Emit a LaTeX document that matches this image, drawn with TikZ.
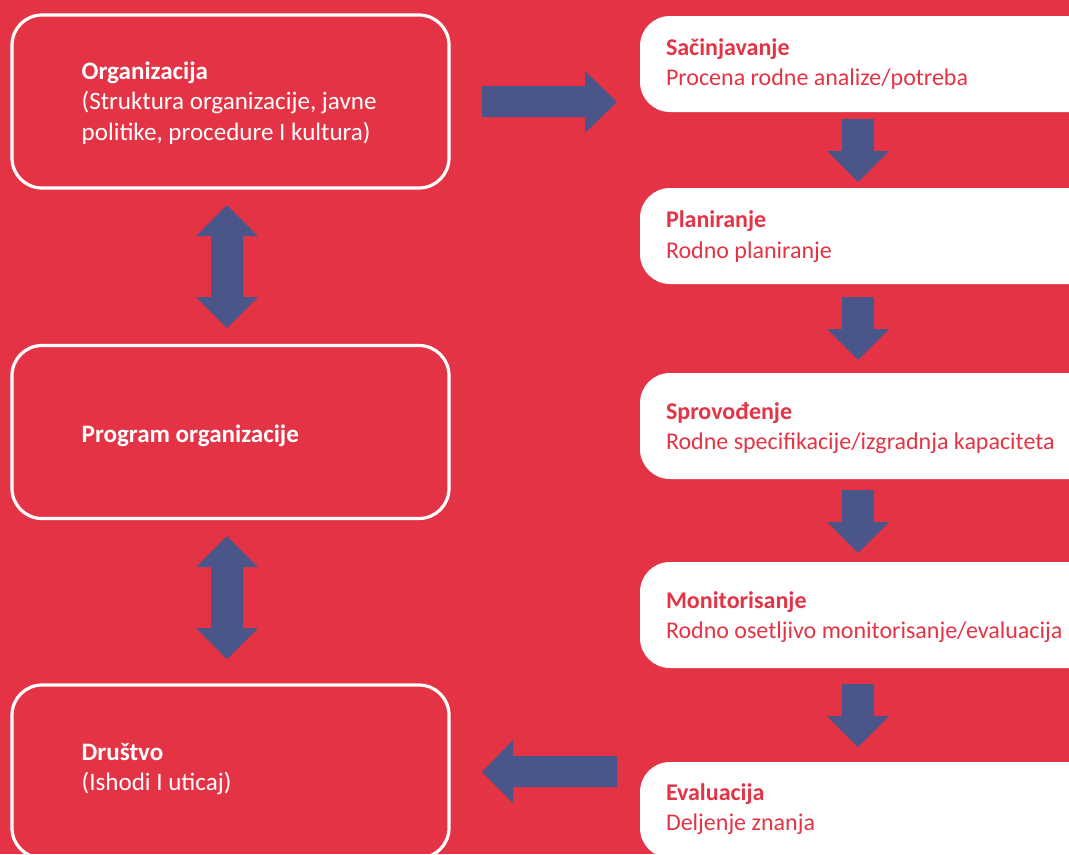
\documentclass[tikz,border=0pt]{standalone}
\usepackage{fontspec}
\setmainfont{Carlito}
\definecolor{bgred}{RGB}{228,51,69}
\definecolor{arrblue}{RGB}{74,86,137}
\newcommand\darr[3]{\fill[arr] (#1-16,#2) -- (#1+16,#2) -- (#1+16,#3-31) -- (#1+31,#3-31) -- (#1,#3) -- (#1-31,#3-31) -- (#1-16,#3-31) -- cycle;}
\newcommand\dblarr[3]{\fill[arr] (#1,#2) -- (#1+31,#2+31) -- (#1+16,#2+31) -- (#1+16,#3-31) -- (#1+31,#3-31) -- (#1,#3) -- (#1-31,#3-31) -- (#1-16,#3-31) -- (#1-16,#2+31) -- (#1-31,#2+31) -- cycle;}
\begin{document}
\begin{tikzpicture}[x=0.75pt,y=-0.75pt,
  arr/.style={fill=arrblue},
  lbox/.style={draw=white,line width=2.4pt,rounded corners=22.5pt,minimum width=327.75pt,minimum height=129.75pt,inner sep=0pt},
  rbox/.style={fill=white,rounded corners=22.5pt,minimum width=345pt,inner sep=0pt},
  ltxt/.style={anchor=west,align=left,text=white,font=\fontsize{18.8}{22.7}\selectfont,inner sep=0pt},
  rtxt/.style={anchor=west,align=left,text=bgred,font=\fontsize{18.0}{22.7}\selectfont,inner sep=0pt}]
\useasboundingbox (0,0) rectangle (1069,854);
\fill[bgred] (0,0) rectangle (1069,854);
\clip (0,0) rectangle (1069,854);
% left boxes
\node[lbox] (o1) at (230.5,101.5) {};
\node[lbox] (o2) at (230.5,432) {};
\node[lbox] (o3) at (230.5,771.5) {};
\node[ltxt] (t1) at ([xshift=53.25pt,yshift=-1.2pt]o1.west) {\textbf{Organizacija}\\(Struktura organizacije, javne\\politike, procedure I kultura)};
\node[ltxt] (t2) at ([xshift=53.25pt,yshift=-2.6pt]o2.west) {\textbf{Program organizacije}};
\node[ltxt] (t3) at ([xshift=53.25pt,yshift=2pt]o3.west) {\textbf{Društvo}\\(Ishodi I uticaj)};
% right boxes
\node[rbox,minimum height=72pt] (r1) at (870,64) {};
\node[rbox,minimum height=72pt] (r2) at (870,236) {};
\node[rbox,minimum height=79.5pt] (r3) at (870,426) {};
\node[rbox,minimum height=79.5pt] (r4) at (870,615) {};
\node[rbox,minimum height=72pt] (r5) at (870,810) {};
\node[rtxt] (s1) at ([xshift=19.5pt,yshift=0pt]r1.west) {\textbf{Sačinjavanje}\\Procena rodne analize/potreba};
\node[rtxt] (s2) at ([xshift=19.5pt,yshift=-0.4pt]r2.west) {\textbf{Planiranje}\\Rodno planiranje};
\node[rtxt] (s3) at ([xshift=19.5pt,yshift=-1.5pt]r3.west) {\textbf{Sprovođenje}\\Rodne specifikacije/izgradnja kapaciteta};
\node[rtxt] (s4) at ([xshift=19.5pt,yshift=-1.5pt]r4.west) {\textbf{Monitorisanje}\\Rodno osetljivo monitorisanje/evaluacija};
\node[rtxt] (s5) at ([xshift=19.5pt,yshift=0.4pt]r5.west) {\textbf{Evaluacija}\\Deljenje znanja};
% down arrows
\darr{858}{119}{182}
\darr{858}{297}{360}
\darr{858}{490}{553}
\darr{858}{684}{747}
% double arrows
\dblarr{227}{205}{328}
\dblarr{227}{536}{659}
% right arrow
\fill[arr] (482,86) -- (585,86) -- (585,71) -- (617,102) -- (585,133) -- (585,117) -- (482,117) -- cycle;
% left arrow
\fill[arr] (617,756) -- (513,756) -- (513,740) -- (482,772) -- (513,803) -- (513,787) -- (617,787) -- cycle;
\end{tikzpicture}
\end{document}
